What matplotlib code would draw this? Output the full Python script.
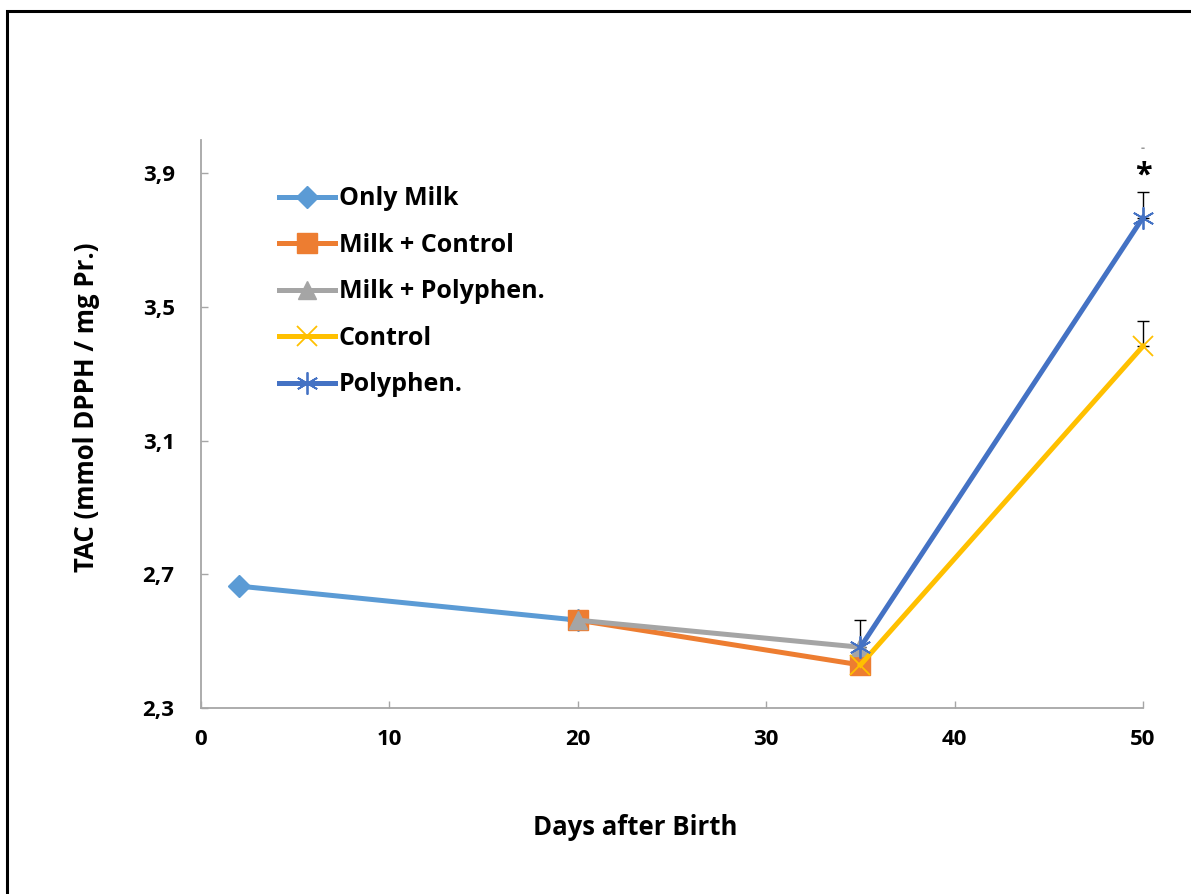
import matplotlib.pyplot as plt
from matplotlib.patches import Rectangle

plt.rcParams['font.family'] = ['Open Sans', 'DejaVu Sans']
plt.rcParams['font.weight'] = 'bold'

# data
only_milk_x = [2, 20]
only_milk_y = [2.665, 2.563]
milk_control_x = [20, 35]
milk_control_y = [2.563, 2.429]
milk_poly_x = [20, 35]
milk_poly_y = [2.563, 2.482]
control_x = [35, 50]
control_y = [2.429, 3.383]
poly_x = [35, 50]
poly_y = [2.482, 3.768]

# upper error bars only
control_err = [0, 0.076]
poly_err = [0.081, 0.076]

x_ticks = [0, 10, 20, 30, 40, 50]
y_ticks = [2.3, 2.7, 3.1, 3.5, 3.9]
y_tick_labels = ['2,3', '2,7', '3,1', '3,5', '3,9']

fig = plt.figure(figsize=(11.91, 8.94), dpi=100)
ax = fig.add_axes([0.1688, 0.208, 0.7909, 0.6354])

# outer frame (only top and left visible in the picture)
fig.patches.append(Rectangle((0.006, -0.05), 1.1, 1.038, transform=fig.transFigure,
                             fill=False, edgecolor='black', linewidth=2.2))

lw = 3.6
ax.plot(only_milk_x, only_milk_y, color='#5B9BD5', lw=lw, marker='D', ms=11,
        label='Only Milk', zorder=3, clip_on=False)
ax.plot(milk_control_x, milk_control_y, color='#ED7D31', lw=lw, marker='s', ms=14,
        label='Milk + Control', zorder=3, clip_on=False)
ax.plot(milk_poly_x, milk_poly_y, color='#A5A5A5', lw=lw, marker='^', ms=13,
        label='Milk + Polyphen.', zorder=4, clip_on=False)
ax.plot(control_x, control_y, color='#FFC000', lw=lw, marker='x', ms=14, mew=1.3,
        label='Control', zorder=5, clip_on=False)
ax.plot(poly_x, poly_y, color='#4472C4', lw=lw, marker=(6, 2, 0), ms=16, mew=1.3,
        label='Polyphen.', zorder=5, clip_on=False)

for xs, ys, err in [(control_x, control_y, control_err), (poly_x, poly_y, poly_err)]:
    eb = ax.errorbar(xs, ys, yerr=[[0, 0], err], fmt='none', ecolor='black',
                     elinewidth=1, capsize=4.5, capthick=1, zorder=2)
    for artist in eb.lines[1] + eb.lines[2]:
        artist.set_clip_on(False)

ax.text(50, 3.895, '*', ha='center', va='center', fontsize=22, fontweight='bold')
ax.text(50, 3.975, '-', ha='center', va='center', fontsize=9, color='#999999')

ax.set_xlim(0, 50)
ax.set_ylim(2.3, 4.0)
ax.set_xticks(x_ticks)
ax.set_yticks(y_ticks)
ax.set_yticklabels(y_tick_labels)

for s in ['top', 'right']:
    ax.spines[s].set_visible(False)
for s in ['left', 'bottom']:
    ax.spines[s].set_color('#A6A6A6')
    ax.spines[s].set_linewidth(1.3)

ax.tick_params(axis='both', direction='in', length=5, color='#A6A6A6', width=1,
               labelsize=16)
ax.tick_params(axis='x', pad=15)
ax.tick_params(axis='y', pad=19)

ax.set_xlabel('Days after Birth', fontsize=18.5, fontweight='bold')
ax.set_ylabel('TAC (mmol DPPH / mg Pr.)', fontsize=18.5, fontweight='bold')
ax.xaxis.set_label_coords(0.4607, -0.187)
ax.yaxis.set_label_coords(-0.107, 0.53)

ax.legend(loc='upper left', bbox_to_anchor=(0.072, 0.936), frameon=False,
          fontsize=18, handlelength=2.24, handletextpad=0.15, labelspacing=0.86,
          borderaxespad=0)

fig.savefig('out.png', dpi=100)
